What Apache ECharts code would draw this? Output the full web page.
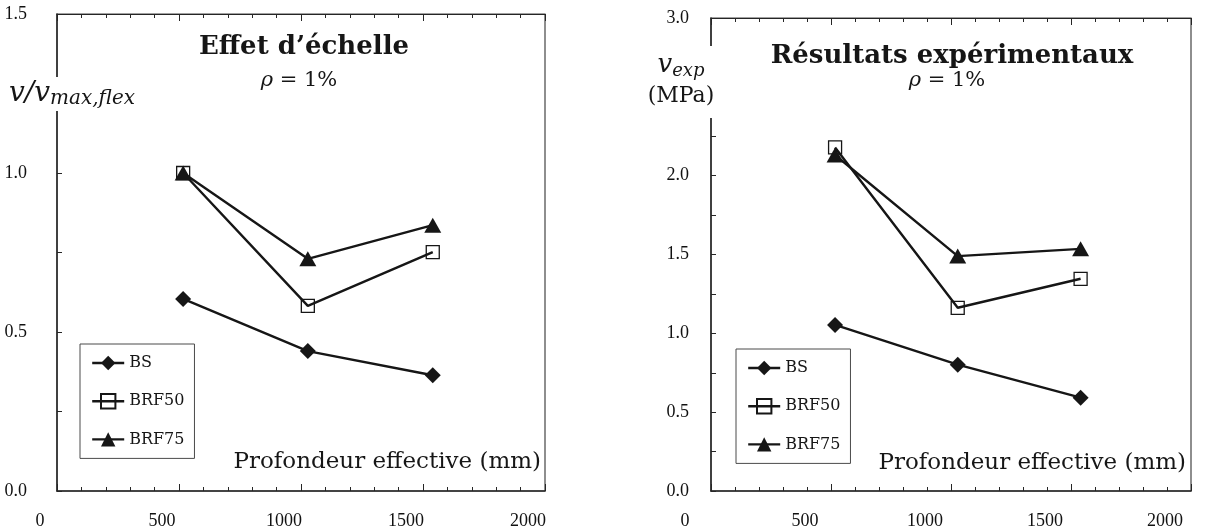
<!DOCTYPE html>
<html>
<head>
<meta charset="utf-8">
<script src="https://cdn.jsdelivr.net/npm/echarts@6/dist/echarts.min.js"></script>
<style>
  html, body { margin: 0; padding: 0; background: #ffffff; }
  #chart { width: 1217px; height: 531px; }
</style>
</head>
<body>
<div id="chart"></div>
<script>
// Effective depth of the beams (mm), as plotted
const depths = [517, 1028, 1540];
const seriesNames = ['BS', 'BRF50', 'BRF75'];

// Size effect: v / v_max,flex
const bsRatio    = [0.604, 0.440, 0.364];
const brf50Ratio = [1.000, 0.582, 0.751];
const brf75Ratio = [1.000, 0.730, 0.836];

// Experimental shear stress v_exp (MPa)
const bsExp    = [1.053, 0.801, 0.592];
const brf50Exp = [2.179, 1.162, 1.346];
const brf75Exp = [2.131, 1.490, 1.536];

// Axis ranges and tick steps
const xRange = [0, 2000];
const xLabelStep = 500;
const ratioRange = [0, 1.5];
const expRange = [0, 3.0];
const yTickStep = 0.25;
const yLabelStep = 0.5;

const INK = '#161616';
const AXIS = '#262626';
const SERIF = '"DejaVu Serif", serif';
const TIMES = '"Liberation Serif", "Times New Roman", serif';

const markerStyles = {
  BS:    { symbol: 'diamond',  symbolSize: [16, 16], itemStyle: { color: INK } },
  BRF50: { symbol: 'rect',     symbolSize: 13, itemStyle: { color: 'rgba(255,255,255,0)', borderColor: INK, borderWidth: 1.3 } },
  BRF75: { symbol: 'triangle', symbolSize: [17, 15], itemStyle: { color: INK } }
};

function lineSeries(name, values, panel) {
  return Object.assign({
    type: 'line',
    name: name,
    xAxisIndex: panel * 2,
    yAxisIndex: panel,
    data: depths.map((d, i) => [d, values[i]]),
    lineStyle: { color: INK, width: 2.4 },
    showAllSymbol: true,
    emphasis: { disabled: true },
    z: 3
  }, markerStyles[name]);
}

function yLabelFormatter(v) {
  const k = v / yLabelStep;
  return Math.abs(k - Math.round(k)) < 1e-6 ? v.toFixed(1) : '';
}

// labelShift: the tick labels sit a little to the left of their ticks
function xAxes(grid, labelShift) {
  const common = {
    type: 'value', gridIndex: grid, min: xRange[0], max: xRange[1], interval: xLabelStep,
    splitLine: { show: false },
    axisLine: { show: true, lineStyle: { color: AXIS, width: 1.5 } },
    axisTick: { show: true, inside: true, length: 7, lineStyle: { color: AXIS, width: 1 } },
    minorTick: { show: true, splitNumber: 5, length: 4, lineStyle: { color: AXIS, width: 1 } }
  };
  return [
    Object.assign({}, common, {
      position: 'bottom',
      axisLabel: {
        show: true, margin: 21, fontFamily: TIMES, fontSize: 18, color: '#111',
        padding: [0, 2 * labelShift, 0, 0],
        formatter: v => String(v)
      }
    }),
    Object.assign({}, common, {
      position: 'top',
      axisLine: { show: true, lineStyle: { color: AXIS, width: 1.2 } },
      axisLabel: { show: false }
    })
  ];
}

function yAxis(grid, range, margin) {
  return {
    type: 'value', gridIndex: grid, min: range[0], max: range[1], interval: yTickStep,
    splitLine: { show: false },
    axisLine: { show: true, lineStyle: { color: AXIS, width: 1.5 } },
    axisTick: { show: true, inside: true, length: 5, lineStyle: { color: AXIS, width: 1 } },
    axisLabel: { show: true, margin: margin, fontFamily: TIMES, fontSize: 18, color: '#111', formatter: yLabelFormatter }
  };
}

function legend(left, top) {
  return {
    data: seriesNames,
    orient: 'vertical',
    left: left, top: top,
    padding: [11, 10, 11, 11],
    itemGap: 22,
    itemWidth: 32,
    itemHeight: 18,
    selectedMode: false,
    borderColor: '#4a4a4a', borderWidth: 1,
    backgroundColor: '#ffffff',
    lineStyle: { color: INK, width: 2.4 },
    textStyle: { fontFamily: SERIF, fontSize: 16, color: '#161616' }
  };
}

function text(x, y, content, font, extra) {
  return {
    type: 'text', x: x, y: y, z: 100,
    style: Object.assign({ text: content, font: font, fill: '#161616', align: 'center', verticalAlign: 'middle' }, extra || {})
  };
}

const option = {
  animation: false,
  backgroundColor: '#ffffff',
  grid: [
    { left: 57, top: 14, width: 488, height: 477, show: true, borderColor: '#444', borderWidth: 1.2, backgroundColor: 'transparent' },
    { left: 711, top: 18, width: 480, height: 473, show: true, borderColor: '#444', borderWidth: 1.2, backgroundColor: 'transparent' }
  ],
  xAxis: xAxes(0, 17).concat(xAxes(1, 26)),
  yAxis: [yAxis(0, ratioRange, 30), yAxis(1, expRange, 22)],
  legend: [legend(80, 344), legend(736, 349)],
  series: [
    lineSeries('BS', bsRatio, 0),
    lineSeries('BRF50', brf50Ratio, 0),
    lineSeries('BRF75', brf75Ratio, 0),
    lineSeries('BS', bsExp, 1),
    lineSeries('BRF50', brf50Exp, 1),
    lineSeries('BRF75', brf75Exp, 1)
  ],
  graphic: [
    // left panel
    text(304, 47, 'Effet d’échelle', 'bold 26px ' + SERIF),
    text(299, 81, '{i|ρ} = 1%', '21px ' + SERIF, { rich: { i: { fontFamily: SERIF, fontStyle: 'italic', fontSize: 21 } } }),
    text(72, 94, '{i|v/v}{s|max,flex}', '28px ' + SERIF, {
      backgroundColor: '#ffffff', padding: [2, 3, 2, 3],
      rich: {
        i: { fontFamily: SERIF, fontStyle: 'italic', fontSize: 28, lineHeight: 30, verticalAlign: 'middle' },
        s: { fontFamily: SERIF, fontStyle: 'italic', fontSize: 20, lineHeight: 17, verticalAlign: 'bottom' }
      }
    }),
    text(541, 462, 'Profondeur effective (mm)', '23px ' + SERIF, { align: 'right' }),
    // right panel
    text(952, 56, 'Résultats expérimentaux', 'bold 26px ' + SERIF),
    text(947, 81, '{i|ρ} = 1%', '21px ' + SERIF, { rich: { i: { fontFamily: SERIF, fontStyle: 'italic', fontSize: 21 } } }),
    text(681, 82, '{i|v}{s|exp}\n{r|(MPa)}', '22px ' + SERIF, {
      backgroundColor: '#ffffff', padding: [4, 2, 6, 2],
      rich: {
        i: { fontFamily: SERIF, fontStyle: 'italic', fontSize: 26, lineHeight: 30, verticalAlign: 'middle' },
        s: { fontFamily: SERIF, fontStyle: 'italic', fontSize: 18, lineHeight: 17, verticalAlign: 'bottom' },
        r: { fontFamily: SERIF, fontSize: 22, lineHeight: 32 }
      }
    }),
    text(1186, 463, 'Profondeur effective (mm)', '23px ' + SERIF, { align: 'right' })
  ]
};

const chart = echarts.init(document.getElementById('chart'), null, { renderer: 'canvas' });
chart.setOption(option);
</script>
</body>
</html>
